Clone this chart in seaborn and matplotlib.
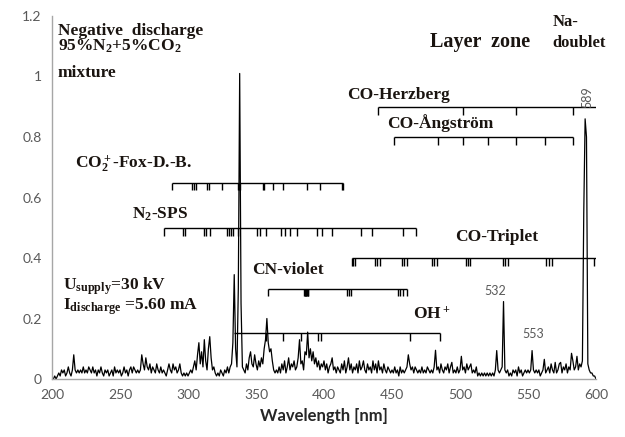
import numpy as np
import pandas as pd
import matplotlib
matplotlib.use("Agg")
import matplotlib.pyplot as plt
import seaborn as sns

# ---- spectrum: intensity (a.u.) sampled every 1 nm from 200 to 600 nm ----
wl_start, wl_stop = 200, 600
intensity = [
    0.00, 0.00, 0.01, 0.00, 0.01, 0.02, 0.01, 0.03, 0.02, 0.03,   # 200
    0.01, 0.02, 0.04, 0.02, 0.01, 0.03, 0.08, 0.03, 0.02, 0.03,   # 210
    0.02, 0.03, 0.02, 0.04, 0.02, 0.03, 0.02, 0.04, 0.03, 0.02,   # 220
    0.04, 0.02, 0.03, 0.01, 0.03, 0.02, 0.04, 0.02, 0.01, 0.03,   # 230
    0.02, 0.03, 0.01, 0.02, 0.03, 0.01, 0.04, 0.02, 0.03, 0.02,   # 240
    0.03, 0.01, 0.02, 0.04, 0.02, 0.03, 0.01, 0.03, 0.04, 0.02,   # 250
    0.04, 0.03, 0.02, 0.03, 0.02, 0.03, 0.08, 0.05, 0.03, 0.07,   # 260
    0.04, 0.03, 0.05, 0.02, 0.04, 0.03, 0.02, 0.05, 0.03, 0.02,   # 270
    0.04, 0.02, 0.03, 0.02, 0.01, 0.03, 0.05, 0.03, 0.02, 0.05,   # 280
    0.03, 0.04, 0.02, 0.03, 0.05, 0.02, 0.01, 0.02, 0.01, 0.02,   # 290
    0.01, 0.02, 0.03, 0.02, 0.04, 0.06, 0.03, 0.08, 0.12, 0.05,   # 300
    0.09, 0.04, 0.13, 0.06, 0.03, 0.10, 0.14, 0.07, 0.03, 0.04,   # 310
    0.02, 0.01, 0.02, 0.01, 0.03, 0.02, 0.01, 0.03, 0.02, 0.04,   # 320
    0.02, 0.04, 0.05, 0.12, 0.345, 0.10, 0.04, 0.30, 1.01, 0.25,  # 330
    0.04, 0.03, 0.02, 0.05, 0.03, 0.07, 0.09, 0.05, 0.04, 0.08,   # 340
    0.05, 0.03, 0.06, 0.04, 0.07, 0.05, 0.10, 0.13, 0.20, 0.12,   # 350
    0.09, 0.10, 0.06, 0.03, 0.02, 0.03, 0.02, 0.04, 0.02, 0.05,   # 360
    0.03, 0.06, 0.02, 0.04, 0.07, 0.03, 0.05, 0.04, 0.06, 0.03,   # 370
    0.04, 0.07, 0.13, 0.05, 0.06, 0.03, 0.09, 0.08, 0.155, 0.07,  # 380
    0.10, 0.06, 0.09, 0.05, 0.07, 0.04, 0.06, 0.03, 0.05, 0.04,   # 390
    0.06, 0.03, 0.05, 0.02, 0.04, 0.05, 0.07, 0.03, 0.04, 0.02,   # 400
    0.04, 0.03, 0.02, 0.05, 0.03, 0.06, 0.02, 0.04, 0.07, 0.03,   # 410
    0.05, 0.02, 0.04, 0.03, 0.05, 0.02, 0.06, 0.03, 0.04, 0.06,   # 420
    0.03, 0.02, 0.05, 0.03, 0.04, 0.02, 0.06, 0.03, 0.05, 0.02,   # 430
    0.06, 0.03, 0.04, 0.02, 0.05, 0.03, 0.02, 0.04, 0.03, 0.02,   # 440
    0.03, 0.02, 0.04, 0.02, 0.03, 0.01, 0.04, 0.02, 0.03, 0.02,   # 450
    0.03, 0.04, 0.08, 0.05, 0.03, 0.04, 0.02, 0.04, 0.03, 0.02,   # 460
    0.03, 0.02, 0.04, 0.02, 0.03, 0.02, 0.04, 0.03, 0.02, 0.03,   # 470
    0.02, 0.04, 0.095, 0.03, 0.04, 0.02, 0.05, 0.03, 0.02, 0.04,  # 480
    0.03, 0.05, 0.02, 0.04, 0.055, 0.02, 0.03, 0.02, 0.04, 0.02,  # 490
    0.03, 0.075, 0.03, 0.04, 0.02, 0.05, 0.03, 0.04, 0.05, 0.02,  # 500
    0.03, 0.02, 0.04, 0.01, 0.02, 0.01, 0.02, 0.01, 0.02, 0.01,   # 510
    0.02, 0.01, 0.02, 0.01, 0.02, 0.01, 0.03, 0.094, 0.03, 0.02,  # 520
    0.03, 0.04, 0.256, 0.03, 0.02, 0.03, 0.01, 0.02, 0.01, 0.03,  # 530
    0.02, 0.03, 0.01, 0.04, 0.02, 0.03, 0.01, 0.02, 0.03, 0.02,   # 540
    0.03, 0.02, 0.03, 0.094, 0.03, 0.02, 0.03, 0.02, 0.03, 0.01,  # 550
    0.02, 0.03, 0.065, 0.02, 0.03, 0.04, 0.02, 0.05, 0.03, 0.02,  # 560
    0.055, 0.02, 0.03, 0.05, 0.055, 0.02, 0.04, 0.03, 0.05, 0.02, # 570
    0.04, 0.03, 0.085, 0.06, 0.03, 0.04, 0.075, 0.03, 0.05, 0.04, # 580
    0.06, 0.55, 0.86, 0.80, 0.05, 0.03, 0.02, 0.02, 0.01, 0.01,   # 590
    0.00,                                                         # 600
]
wavelength = np.arange(wl_start, wl_stop + 1)

# ---- band-head markers (nm) for each molecular system ----
co2p_span = [288.0, 413.8]
co2p_heads = [288.0, 303.2, 304.4, 305.7, 313.8, 315.4, 325.2, 337.0, 337.5,
              338.0, 354.9, 356.1, 362.7, 369.6, 387.3, 397.1, 413.0, 413.8]
n2_span = [282.4, 467.4]
n2_heads = [282.4, 296.2, 297.7, 311.5, 313.5, 315.9, 328.5, 330.0, 331.4,
            333.4, 337.1, 350.5, 353.1, 357.5, 368.2, 371.3, 375.0, 380.0,
            394.6, 398.8, 405.7, 427.2, 435.1, 458.3, 467.4]
herzberg_span = [439.5, 600.0]
herzberg_heads = [439.5, 502.5, 541.2, 582.8]
angstrom_span = [451.5, 582.9]
angstrom_heads = [451.5, 483.6, 502.4, 520.8, 541.2, 562.5, 582.9]
triplet_span = [420.4, 600.0]
triplet_heads = [420.4, 421.6, 422.8, 437.5, 439.3, 441.2, 457.1, 459.0, 460.8,
                 479.4, 481.1, 482.9, 504.2, 505.8, 507.4, 531.6, 533.4, 535.3,
                 563.0, 565.5, 567.9, 598.5]
cn_span = [358.6, 460.8]
cn_heads = [358.6, 385.5, 385.9, 386.3, 386.7, 387.1, 387.5, 387.9, 388.3,
            416.8, 418.4, 420.2, 454.2, 456.0, 458.0, 460.8]
ohp_span = [334.0, 485.3]
ohp_heads = [357.1, 369.6, 383.1, 395.8, 397.9, 463.2, 485.3]

x_ticks = [200, 250, 300, 350, 400, 450, 500, 550, 600]
y_ticks = [0, 0.2, 0.4, 0.6, 0.8, 1.0, 1.2]
y_tick_labels = ["0", "0.2", "0.4", "0.6", "0.8", "1", "1.2"]

# ---- style ----
sns.set_theme(style="white")
plt.rcParams["font.family"] = ["Lato", "DejaVu Sans"]
plt.rcParams["mathtext.fontset"] = "custom"
plt.rcParams["mathtext.rm"] = "Liberation Serif:bold"
plt.rcParams["mathtext.it"] = "Liberation Serif:bold"
plt.rcParams["mathtext.bf"] = "Liberation Serif:bold"
plt.rcParams["mathtext.default"] = "rm"

axis_grey = "#a6a6a6"
label_grey = "#595959"
ink = "#1a1410"

fig = plt.figure(figsize=(6.25, 4.37), dpi=100)
ax = fig.add_axes([0.0832, 0.1327, 0.8704, 0.8307])

df = pd.DataFrame({"Wavelength": wavelength, "Intensity": intensity})
sns.lineplot(data=df, x="Wavelength", y="Intensity", ax=ax,
             color="black", linewidth=0.9)

ax.set_xlim(200, 600)
ax.set_ylim(0, 1.2)
ax.set_xticks(x_ticks)
ax.set_xticklabels([str(v) for v in x_ticks])
ax.set_yticks(y_ticks)
ax.set_yticklabels(y_tick_labels)
ax.tick_params(axis="both", colors=axis_grey, labelcolor=label_grey,
               labelsize=10, length=4, width=1, direction="out")
for side in ("top", "right"):
    ax.spines[side].set_visible(False)
for side in ("left", "bottom"):
    ax.spines[side].set_color(axis_grey)
    ax.spines[side].set_linewidth(1.0)
ax.set_xlabel("Wavelength [nm]", fontsize=12, fontweight="bold",
              color="#262626", labelpad=5)
ax.set_ylabel("")


def bracket(span, heads, level, drop=0.024):
    ax.plot(span, [level, level], color="black", lw=1.0,
            solid_capstyle="butt")
    ax.vlines(heads, level - drop, level, color="black", lw=1.0)


bracket(co2p_span, co2p_heads, 0.648)
bracket(n2_span, n2_heads, 0.498)
bracket(herzberg_span, herzberg_heads, 0.898)
bracket(angstrom_span, angstrom_heads, 0.799)
bracket(triplet_span, triplet_heads, 0.399)
bracket(cn_span, cn_heads, 0.299)
bracket(ohp_span, ohp_heads, 0.153, drop=0.026)

fs = 12.5
serif = dict(family="Liberation Serif", fontweight="bold", color=ink,
             ha="left", va="baseline")
ax.text(204.4, 1.137, "Negative  discharge", fontsize=fs, **serif)
ax.text(204.4, 1.085, r"95%N$_2$+5%CO$_2$", fontsize=fs, **serif)
ax.text(204.4, 0.998, "mixture", fontsize=fs, **serif)
ax.text(477.9, 1.099, "Layer  zone", fontsize=14.5, **serif)
ax.text(568.4, 1.167, "Na-", fontsize=12, **serif)
ax.text(567.6, 1.099, "doublet", fontsize=12, **serif)
ax.text(416.9, 0.926, "CO-Herzberg", fontsize=fs, **serif)
ax.text(446.3, 0.829, "CO-Ångström", fontsize=fs, **serif)
ax.text(216.9, 0.6965, r"CO$_2^+$-Fox-D.-B.", fontsize=fs, **serif)
ax.text(258.8, 0.531, r"N$_2$-SPS", fontsize=fs, **serif)
ax.text(496.3, 0.457, "CO-Triplet", fontsize=fs, **serif)
ax.text(347.1, 0.347, "CN-violet", fontsize=fs, **serif)
ax.text(465.4, 0.198, r"OH$^+$", fontsize=fs, **serif)
ax.text(208.1, 0.2965, r"U$_{supply}$=30 kV", fontsize=fs, **serif)
ax.text(208.1, 0.230, r"I$_{discharge}$ =5.60 mA", fontsize=fs, **serif)

sans = dict(color=label_grey, fontsize=9)
ax.text(517.6, 0.2777, "532", ha="left", va="baseline", **sans)
ax.text(545.6, 0.1355, "553", ha="left", va="baseline", **sans)
ax.text(593.4, 0.932, "589", ha="center", va="center", rotation=90, **sans)

fig.savefig("out.png", dpi=100)
